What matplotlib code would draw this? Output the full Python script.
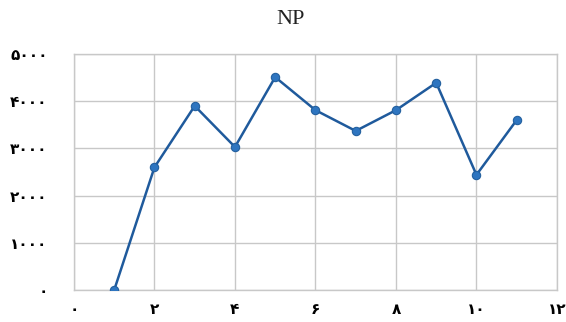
import matplotlib.pyplot as plt
import numpy as np

# --- Données ---
x_vals = [1, 2, 3, 4, 5, 6, 7, 8, 9, 10, 11]
np_vals = [0, 2600, 3900, 3030, 4510, 3810, 3370, 3810, 4390, 2440, 3600]

x_ticks = [0, 2, 4, 6, 8, 10, 12]
x_tick_labels = ['۰', '۲', '۴', '۶', '۸', '۱۰', '۱۲']
y_ticks = [0, 1000, 2000, 3000, 4000, 5000]
y_tick_labels = ['۰', '۱۰۰۰', '۲۰۰۰', '۳۰۰۰', '۴۰۰۰', '۵۰۰۰']

plt.rcParams['font.family'] = ['DejaVu Sans', 'Noto Sans']

fig = plt.figure(figsize=(5.66, 3.22), dpi=100)
ax = fig.add_axes([0.1307, 0.0994, 0.8533, 0.7329])

ax.plot(x_vals, np_vals, color='#1f5a9c', linewidth=1.8,
        marker='o', markersize=6, markerfacecolor='#2e75c0',
        markeredgecolor='#23609f', markeredgewidth=0.8, zorder=3)

ax.set_xlim(0, 12)
ax.set_ylim(0, 5000)
ax.set_xticks(x_ticks)
ax.set_xticklabels(x_tick_labels, fontsize=11, fontweight='bold')
ax.set_yticks(y_ticks)
ax.set_yticklabels(y_tick_labels, fontsize=11, fontweight='bold')
ax.tick_params(length=0)
ax.tick_params(axis='y', pad=19)
ax.tick_params(axis='x', pad=9)

ax.grid(True, color='#c8c8c8', linewidth=1)
ax.set_axisbelow(True)
for s in ax.spines.values():
    s.set_color('#c8c8c8')
    s.set_linewidth(1)

fig.text(0.513, 0.94, 'NP', ha='center', va='center',
         fontsize=16, family='Liberation Serif', color='#222222')

plt.savefig('out.png', dpi=100)
